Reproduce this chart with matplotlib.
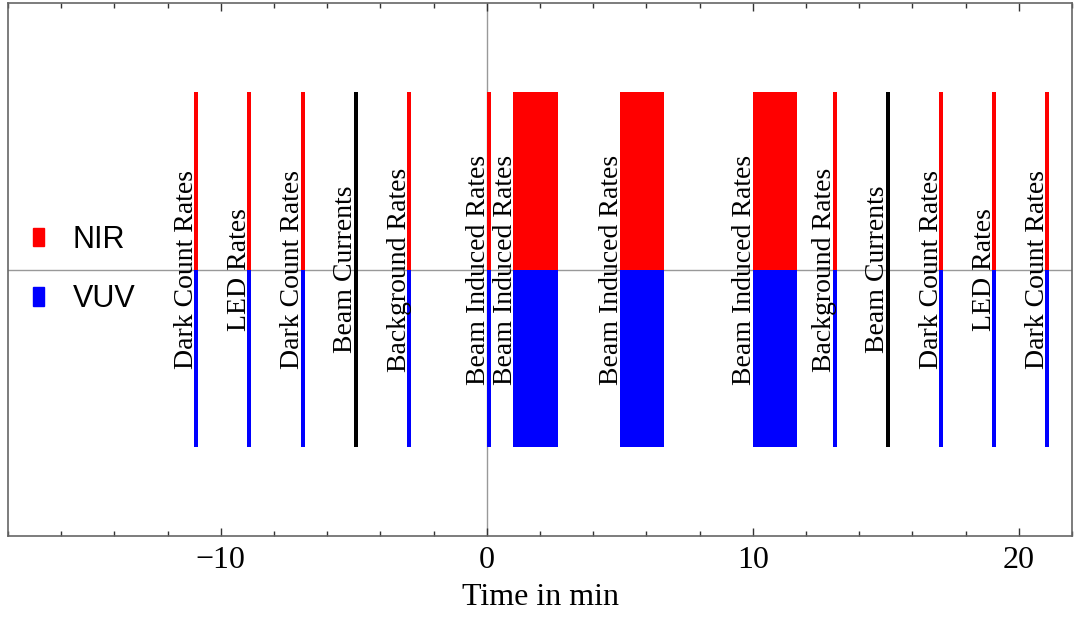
import matplotlib
matplotlib.use("Agg")
import matplotlib.pyplot as plt
from matplotlib.patches import Patch
from matplotlib.ticker import MultipleLocator

# measurement schedule (minutes)
starts = [-11, -9, -7, -5, -3, 0, 1, 5, 10, 13, 15, 17, 19, 21]
durations = [0.15, 0.15, 0.15, 0.15, 0.15, 0.15, 5 / 3, 5 / 3, 5 / 3,
             0.15, 0.15, 0.15, 0.15, 0.15]
labels = ["Dark Count Rates", "LED Rates", "Dark Count Rates", "Beam Currents",
          "Background Rates", "Beam Induced Rates", "Beam Induced Rates",
          "Beam Induced Rates", "Beam Induced Rates", "Background Rates",
          "Beam Currents", "Dark Count Rates", "LED Rates", "Dark Count Rates"]
both_channels = [lab != "Beam Currents" for lab in labels]

serif = ["Liberation Serif", "DejaVu Serif"]

fig = plt.figure(figsize=(10.76, 6.22), dpi=100)
ax = fig.add_axes([8 / 1076, 1 - 536 / 622, 1064 / 1076, 533 / 622])

for t, d, lab, both in zip(starts, durations, labels, both_channels):
    if both:
        ax.bar(t, 1, width=d, bottom=0, align="edge", color="#ff0000", lw=0)
        ax.bar(t, 1, width=d, bottom=-1, align="edge", color="#0000ff", lw=0)
    else:
        ax.bar(t, 2, width=d, bottom=-1, align="edge", color="black", lw=0)
    ax.text(t - 0.05, 0, lab, rotation=90, rotation_mode="anchor",
            ha="center", va="baseline", fontsize=20, family=serif)

# axes through the origin, behind the bars
ax.axhline(0, color="#999999", lw=1, zorder=0.5)
ax.axvline(0, color="#999999", lw=1, zorder=0.5)

ax.set_xlim(-18, 22)
ax.set_ylim(-1.5, 1.5)
ax.set_yticks([])
ax.xaxis.set_major_locator(MultipleLocator(10))
ax.xaxis.set_minor_locator(MultipleLocator(2))
ax.tick_params(axis="x", which="both", direction="in", top=True,
               labelsize=23, pad=7, color="#333333")
ax.tick_params(axis="x", which="major", length=6, width=1)
ax.tick_params(axis="x", which="minor", length=3.5, width=1)
ax.set_xticks([-10, 0, 10, 20])
ax.set_xticklabels(["\u221210", "0", "10", "20"], family=serif, fontsize=23)
ax.set_xlabel("Time in min", family=serif, fontsize=23, labelpad=6)

for sp in ax.spines.values():
    sp.set_color("#666666")
    sp.set_linewidth(1.2)

handles = [Patch(color="#ff0000", label="NIR"), Patch(color="#0000ff", label="VUV")]
ax.legend(handles=handles, loc="center left", bbox_to_anchor=(0.009, 0.5),
          frameon=False, borderpad=0, handlelength=0.36, handleheight=0.56,
          handletextpad=0.95, labelspacing=0.95,
          prop={"family": ["Liberation Sans", "DejaVu Sans"], "size": 22})

fig.savefig("out.png", dpi=100)
